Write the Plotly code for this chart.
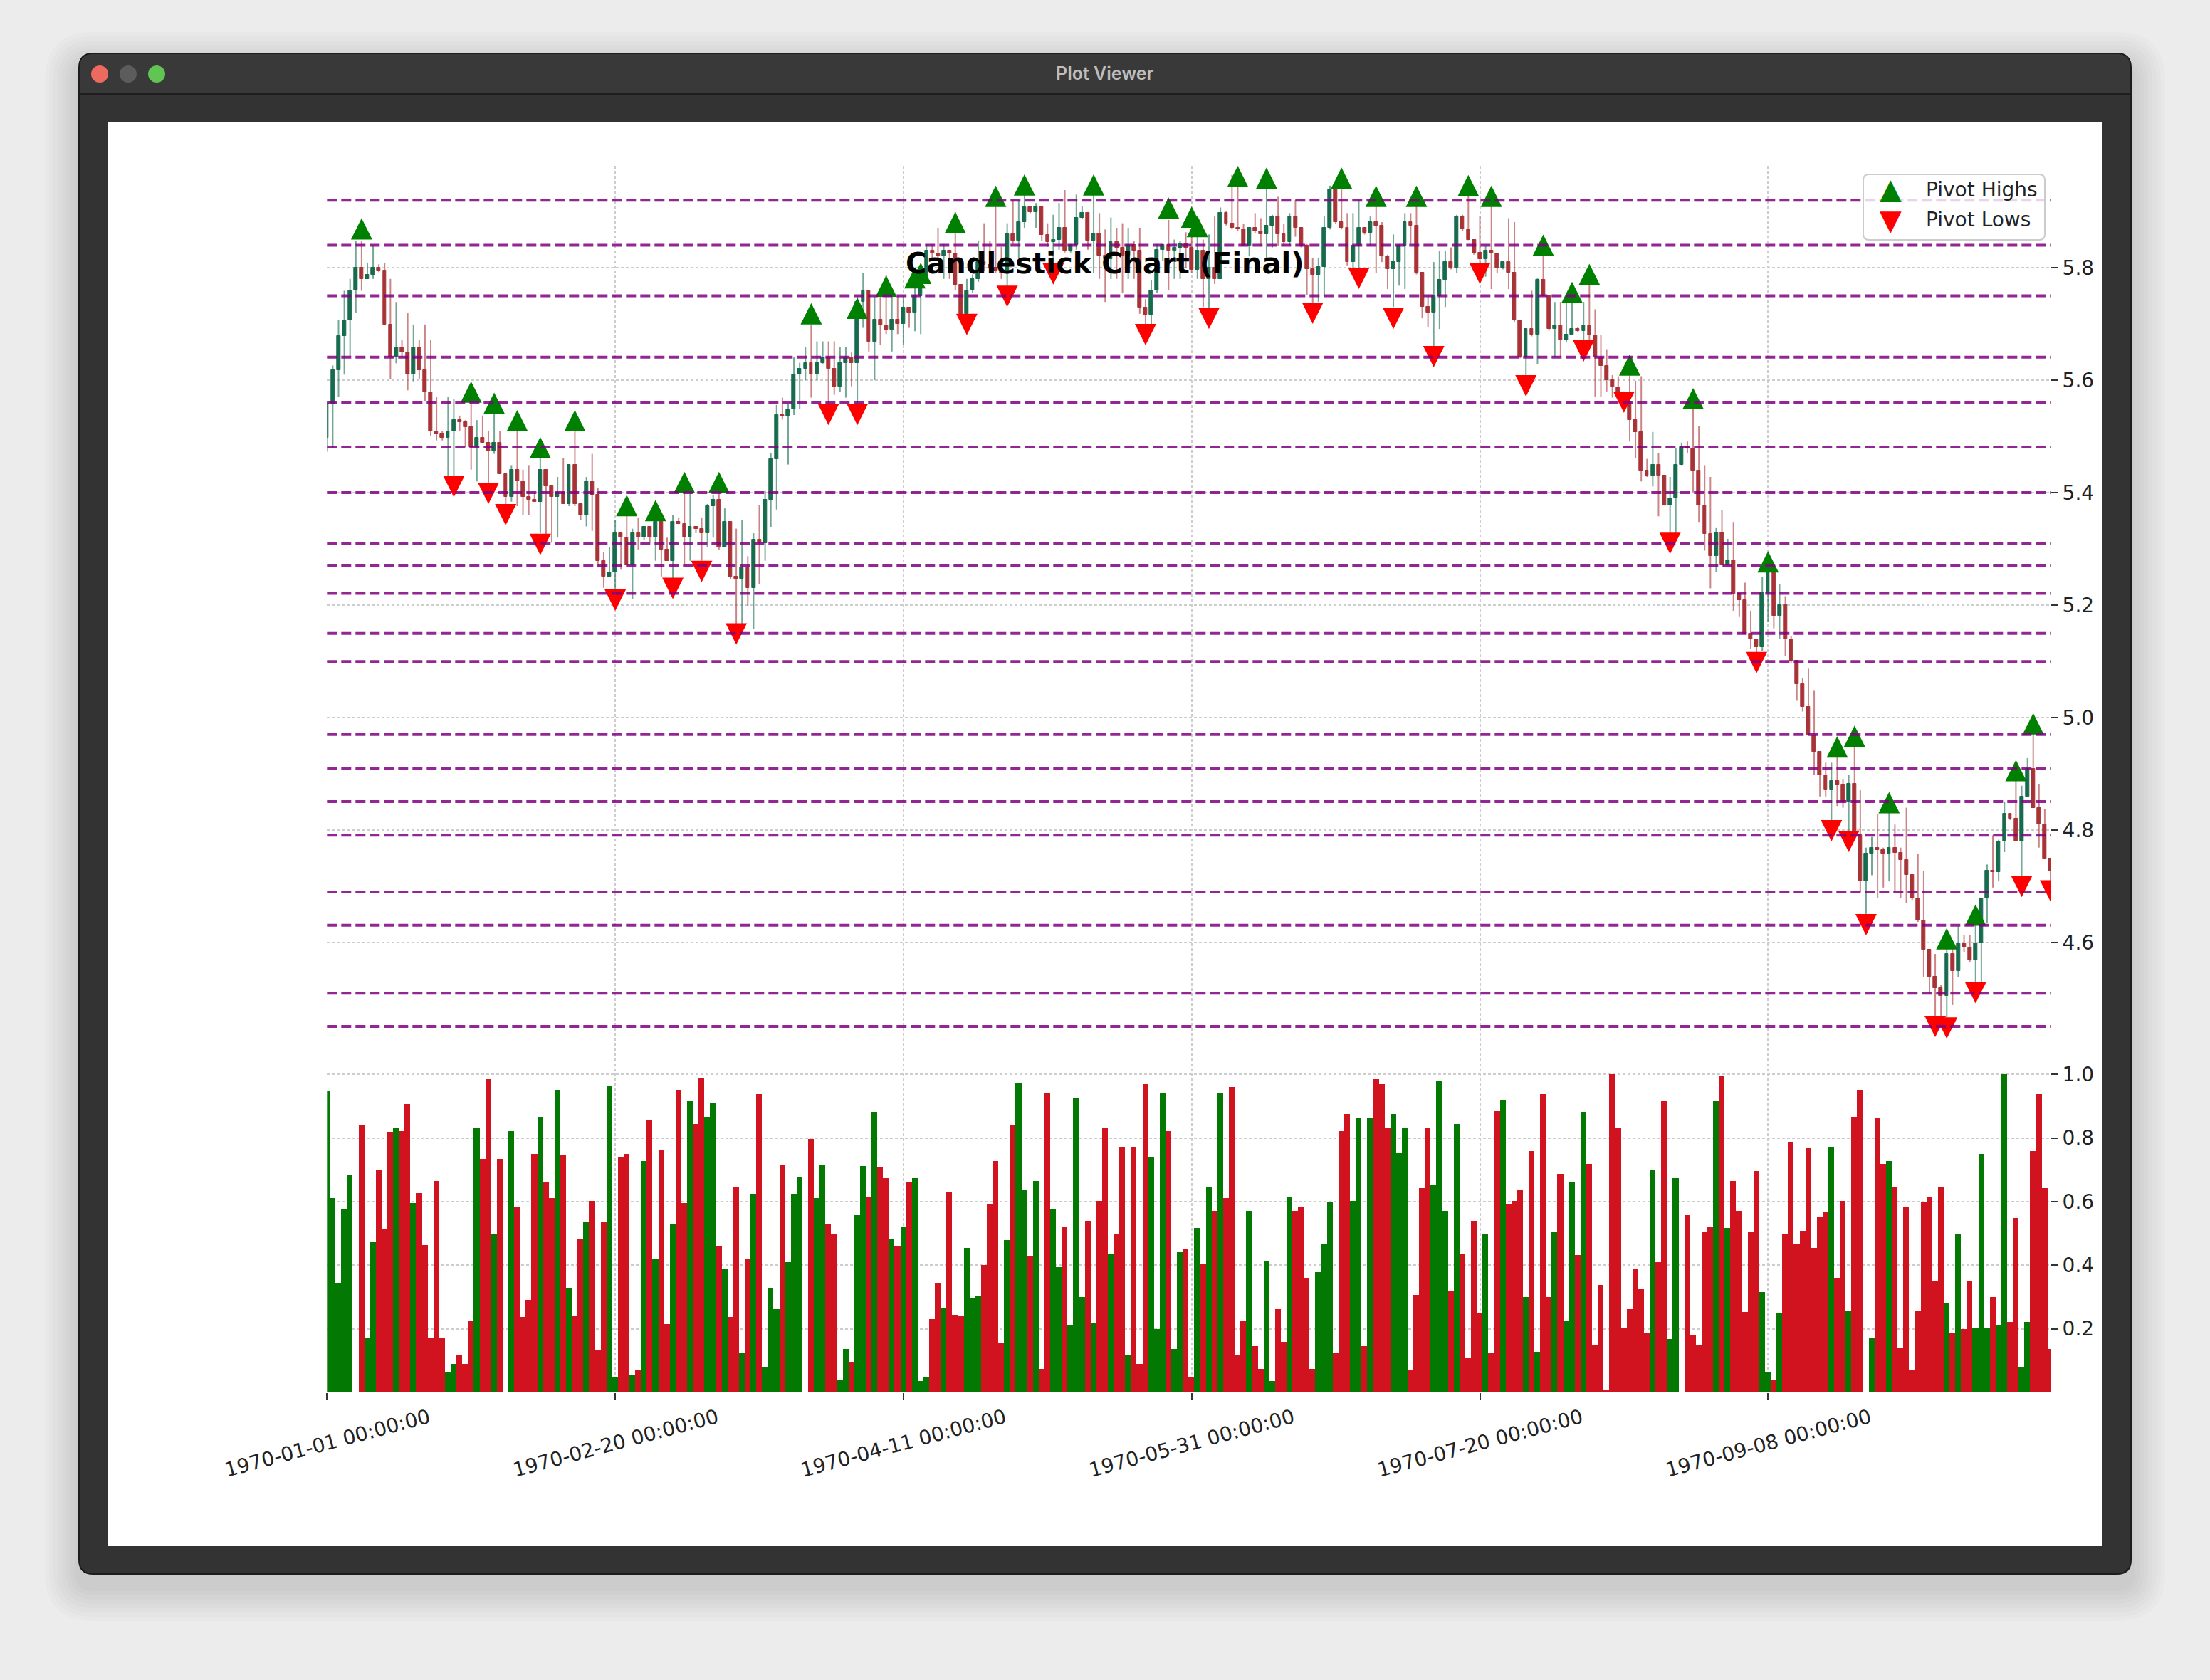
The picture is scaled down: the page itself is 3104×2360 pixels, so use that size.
import pandas as pd
import plotly.graph_objects as go

W, H = 3104, 2360

# ---------------- data ----------------
dates = pd.date_range("1970-01-01", periods=300, freq="D")

first_open = 5.497
close = [
    5.558, 5.618, 5.679, 5.707, 5.759, 5.800, 5.780, 5.788, 5.800, 5.795,
    5.699, 5.642, 5.658, 5.650, 5.610, 5.658, 5.618, 5.578, 5.509, 5.505,
    5.497, 5.509, 5.529, 5.525, 5.517, 5.481, 5.497, 5.489, 5.473, 5.489,
    5.433, 5.392, 5.441, 5.420, 5.392, 5.388, 5.384, 5.441, 5.412, 5.392,
    5.400, 5.380, 5.449, 5.380, 5.360, 5.420, 5.396, 5.279, 5.251, 5.259,
    5.328, 5.320, 5.271, 5.328, 5.320, 5.340, 5.320, 5.348, 5.299, 5.279,
    5.348, 5.344, 5.320, 5.340, 5.336, 5.328, 5.376, 5.388, 5.303, 5.348,
    5.251, 5.247, 5.267, 5.231, 5.316, 5.310, 5.388, 5.460, 5.538, 5.535,
    5.548, 5.610, 5.620, 5.631, 5.610, 5.631, 5.641, 5.620, 5.589, 5.631,
    5.641, 5.631, 5.739, 5.760, 5.669, 5.708, 5.698, 5.690, 5.708, 5.700,
    5.729, 5.720, 5.749, 5.779, 5.830, 5.825, 5.820, 5.830, 5.825, 5.770,
    5.718, 5.760, 5.780, 5.810, 5.805, 5.800, 5.795, 5.790, 5.860, 5.848,
    5.881, 5.907, 5.899, 5.909, 5.858, 5.845, 5.850, 5.871, 5.830, 5.840,
    5.889, 5.897, 5.848, 5.861, 5.822, 5.815, 5.845, 5.835, 5.822, 5.840,
    5.830, 5.729, 5.716, 5.760, 5.832, 5.840, 5.830, 5.835, 5.842, 5.835,
    5.796, 5.830, 5.780, 5.800, 5.780, 5.897, 5.878, 5.871, 5.868, 5.839,
    5.871, 5.865, 5.860, 5.875, 5.891, 5.859, 5.845, 5.891, 5.871, 5.839,
    5.797, 5.788, 5.801, 5.871, 5.939, 5.881, 5.871, 5.810, 5.839, 5.871,
    5.862, 5.881, 5.875, 5.820, 5.797, 5.810, 5.839, 5.881, 5.875, 5.791,
    5.730, 5.720, 5.749, 5.778, 5.810, 5.800, 5.891, 5.868, 5.849, 5.826,
    5.815, 5.830, 5.825, 5.800, 5.810, 5.791, 5.707, 5.642, 5.691, 5.681,
    5.778, 5.749, 5.691, 5.697, 5.671, 5.681, 5.691, 5.688, 5.697, 5.680,
    5.640, 5.625, 5.600, 5.588, 5.578, 5.561, 5.529, 5.508, 5.439, 5.430,
    5.449, 5.430, 5.377, 5.390, 5.449, 5.481, 5.479, 5.439, 5.377, 5.327,
    5.287, 5.329, 5.272, 5.280, 5.221, 5.209, 5.150, 5.140, 5.125, 5.222,
    5.260, 5.181, 5.200, 5.140, 5.101, 5.060, 5.019, 4.969, 4.939, 4.898,
    4.871, 4.887, 4.880, 4.851, 4.882, 4.791, 4.709, 4.758, 4.769, 4.765,
    4.758, 4.769, 4.760, 4.747, 4.720, 4.679, 4.640, 4.588, 4.539, 4.519,
    4.505, 4.580, 4.550, 4.599, 4.591, 4.569, 4.599, 4.679, 4.728, 4.725,
    4.780, 4.829, 4.821, 4.780, 4.860, 4.909, 4.840, 4.810, 4.750, 4.728,
]
high = [
    5.562, 5.626, 5.707, 5.759, 5.780, 5.848, 5.848, 5.808, 5.840, 5.806,
    5.808, 5.780, 5.739, 5.671, 5.719, 5.699, 5.671, 5.699, 5.671, 5.570,
    5.509, 5.570, 5.566, 5.537, 5.529, 5.582, 5.529, 5.537, 5.509, 5.541,
    5.509, 5.433, 5.449, 5.509, 5.441, 5.449, 5.400, 5.465, 5.441, 5.408,
    5.428, 5.461, 5.449, 5.509, 5.380, 5.428, 5.469, 5.408, 5.295, 5.303,
    5.352, 5.328, 5.380, 5.336, 5.356, 5.340, 5.340, 5.368, 5.360, 5.320,
    5.360, 5.356, 5.404, 5.400, 5.340, 5.356, 5.380, 5.396, 5.400, 5.372,
    5.348, 5.336, 5.352, 5.287, 5.328, 5.378, 5.403, 5.471, 5.556, 5.569,
    5.558, 5.641, 5.631, 5.659, 5.698, 5.669, 5.669, 5.669, 5.669, 5.659,
    5.659, 5.649, 5.749, 5.791, 5.749, 5.749, 5.749, 5.786, 5.749, 5.749,
    5.749, 5.729, 5.780, 5.791, 5.842, 5.842, 5.871, 5.842, 5.830, 5.899,
    5.770, 5.780, 5.788, 5.847, 5.879, 5.847, 5.920, 5.837, 5.879, 5.920,
    5.920, 5.930, 5.910, 5.915, 5.910, 5.879, 5.894, 5.915, 5.938, 5.842,
    5.930, 5.910, 5.899, 5.946, 5.897, 5.868, 5.889, 5.871, 5.879, 5.871,
    5.848, 5.871, 5.744, 5.778, 5.842, 5.842, 5.885, 5.850, 5.848, 5.863,
    5.870, 5.860, 5.850, 5.859, 5.891, 5.907, 5.901, 5.965, 5.950, 5.878,
    5.871, 5.897, 5.888, 5.946, 5.894, 5.926, 5.878, 5.897, 5.920, 5.871,
    5.842, 5.817, 5.817, 5.891, 5.946, 5.946, 5.939, 5.897, 5.897, 5.920,
    5.871, 5.891, 5.930, 5.881, 5.823, 5.859, 5.842, 5.897, 5.897, 5.930,
    5.791, 5.752, 5.810, 5.830, 5.830, 5.836, 5.894, 5.894, 5.946, 5.849,
    5.891, 5.839, 5.926, 5.810, 5.810, 5.888, 5.881, 5.707, 5.691, 5.759,
    5.781, 5.823, 5.749, 5.739, 5.739, 5.739, 5.742, 5.694, 5.739, 5.775,
    5.726, 5.681, 5.655, 5.609, 5.607, 5.580, 5.633, 5.599, 5.607, 5.460,
    5.508, 5.470, 5.430, 5.428, 5.479, 5.489, 5.491, 5.569, 5.519, 5.449,
    5.428, 5.337, 5.369, 5.318, 5.348, 5.221, 5.240, 5.189, 5.140, 5.250,
    5.270, 5.260, 5.238, 5.216, 5.145, 5.098, 5.071, 5.087, 5.049, 4.939,
    4.920, 4.920, 4.953, 4.890, 4.898, 4.950, 4.871, 4.769, 4.788, 4.829,
    4.769, 4.835, 4.810, 4.769, 4.840, 4.720, 4.758, 4.728, 4.588, 4.580,
    4.525, 4.596, 4.593, 4.629, 4.613, 4.613, 4.654, 4.679, 4.739, 4.791,
    4.783, 4.851, 4.829, 4.909, 4.879, 4.928, 4.991, 4.882, 4.838, 4.750,
]
low = [
    5.473, 5.480, 5.570, 5.610, 5.642, 5.719, 5.759, 5.780, 5.780, 5.792,
    5.699, 5.602, 5.630, 5.642, 5.582, 5.598, 5.602, 5.562, 5.501, 5.493,
    5.493, 5.430, 5.410, 5.509, 5.481, 5.441, 5.420, 5.489, 5.416, 5.469,
    5.433, 5.368, 5.384, 5.376, 5.360, 5.360, 5.384, 5.328, 5.311, 5.311,
    5.320, 5.380, 5.376, 5.376, 5.352, 5.340, 5.332, 5.267, 5.231, 5.251,
    5.219, 5.263, 5.271, 5.211, 5.299, 5.316, 5.311, 5.279, 5.251, 5.279,
    5.235, 5.344, 5.271, 5.279, 5.328, 5.279, 5.303, 5.320, 5.299, 5.303,
    5.247, 5.158, 5.158, 5.199, 5.158, 5.238, 5.279, 5.339, 5.370, 5.530,
    5.450, 5.538, 5.548, 5.600, 5.569, 5.600, 5.628, 5.558, 5.574, 5.579,
    5.569, 5.589, 5.558, 5.693, 5.651, 5.600, 5.662, 5.682, 5.651, 5.682,
    5.662, 5.693, 5.687, 5.682, 5.779, 5.812, 5.812, 5.780, 5.780, 5.760,
    5.708, 5.698, 5.755, 5.775, 5.795, 5.795, 5.791, 5.780, 5.765, 5.842,
    5.817, 5.871, 5.897, 5.871, 5.848, 5.837, 5.791, 5.832, 5.827, 5.827,
    5.832, 5.886, 5.832, 5.791, 5.780, 5.739, 5.780, 5.780, 5.755, 5.780,
    5.780, 5.718, 5.698, 5.698, 5.755, 5.812, 5.760, 5.780, 5.780, 5.800,
    5.790, 5.780, 5.730, 5.713, 5.771, 5.780, 5.875, 5.868, 5.865, 5.839,
    5.820, 5.862, 5.839, 5.817, 5.836, 5.839, 5.839, 5.839, 5.855, 5.836,
    5.752, 5.736, 5.739, 5.749, 5.868, 5.878, 5.868, 5.804, 5.797, 5.778,
    5.859, 5.839, 5.791, 5.810, 5.762, 5.730, 5.768, 5.762, 5.842, 5.788,
    5.710, 5.694, 5.639, 5.691, 5.730, 5.797, 5.791, 5.865, 5.849, 5.823,
    5.784, 5.784, 5.762, 5.791, 5.797, 5.762, 5.704, 5.639, 5.604, 5.678,
    5.629, 5.749, 5.688, 5.642, 5.642, 5.668, 5.681, 5.686, 5.655, 5.668,
    5.571, 5.571, 5.580, 5.569, 5.567, 5.555, 5.491, 5.462, 5.420, 5.428,
    5.411, 5.358, 5.377, 5.327, 5.318, 5.449, 5.470, 5.401, 5.348, 5.297,
    5.230, 5.259, 5.272, 5.270, 5.190, 5.179, 5.148, 5.123, 5.101, 5.118,
    5.170, 5.159, 5.140, 5.109, 5.098, 5.030, 5.011, 4.969, 4.898, 4.860,
    4.860, 4.816, 4.843, 4.840, 4.799, 4.791, 4.690, 4.651, 4.720, 4.679,
    4.698, 4.709, 4.690, 4.679, 4.670, 4.676, 4.637, 4.539, 4.508, 4.467,
    4.460, 4.464, 4.489, 4.539, 4.583, 4.566, 4.525, 4.525, 4.635, 4.698,
    4.709, 4.761, 4.818, 4.780, 4.698, 4.860, 4.840, 4.769, 4.750, 4.710,
]
volume = [
    0.948, 0.612, 0.345, 0.576, 0.684, 0.000, 0.841, 0.173, 0.473, 0.701,
    0.514, 0.819, 0.831, 0.822, 0.907, 0.595, 0.626, 0.464, 0.173, 0.666,
    0.173, 0.066, 0.089, 0.119, 0.089, 0.227, 0.831, 0.734, 0.984, 0.500,
    0.734, 0.000, 0.822, 0.581, 0.237, 0.290, 0.751, 0.867, 0.661, 0.612,
    0.952, 0.746, 0.330, 0.240, 0.483, 0.536, 0.603, 0.134, 0.536, 0.966,
    0.049, 0.742, 0.751, 0.057, 0.071, 0.728, 0.858, 0.419, 0.764, 0.214,
    0.528, 0.952, 0.595, 0.916, 0.845, 0.988, 0.867, 0.912, 0.460, 0.388,
    0.237, 0.648, 0.124, 0.419, 0.625, 0.939, 0.080, 0.330, 0.263, 0.716,
    0.410, 0.625, 0.679, 0.000, 0.796, 0.612, 0.716, 0.531, 0.500, 0.040,
    0.137, 0.097, 0.558, 0.711, 0.616, 0.881, 0.707, 0.675, 0.482, 0.460,
    0.522, 0.661, 0.675, 0.035, 0.049, 0.231, 0.343, 0.267, 0.630, 0.245,
    0.240, 0.455, 0.295, 0.303, 0.401, 0.594, 0.728, 0.156, 0.478, 0.841,
    0.975, 0.639, 0.428, 0.666, 0.075, 0.943, 0.576, 0.393, 0.522, 0.213,
    0.925, 0.299, 0.540, 0.218, 0.603, 0.831, 0.437, 0.500, 0.773, 0.119,
    0.773, 0.089, 0.970, 0.742, 0.200, 0.943, 0.822, 0.137, 0.442, 0.451,
    0.049, 0.518, 0.406, 0.648, 0.572, 0.943, 0.612, 0.961, 0.119, 0.227,
    0.572, 0.146, 0.075, 0.415, 0.035, 0.263, 0.160, 0.616, 0.572, 0.585,
    0.361, 0.075, 0.379, 0.469, 0.599, 0.124, 0.822, 0.876, 0.603, 0.863,
    0.146, 0.863, 0.984, 0.970, 0.831, 0.876, 0.755, 0.831, 0.071, 0.307,
    0.643, 0.831, 0.652, 0.979, 0.572, 0.321, 0.845, 0.437, 0.110, 0.540,
    0.249, 0.500, 0.124, 0.885, 0.921, 0.594, 0.603, 0.639, 0.299, 0.760,
    0.128, 0.939, 0.299, 0.504, 0.688, 0.227, 0.661, 0.433, 0.881, 0.719,
    0.151, 0.339, 0.007, 1.000, 0.831, 0.204, 0.263, 0.388, 0.325, 0.187,
    0.701, 0.410, 0.916, 0.169, 0.675, 0.000, 0.558, 0.178, 0.151, 0.504,
    0.522, 0.916, 0.993, 0.518, 0.666, 0.572, 0.254, 0.504, 0.697, 0.316,
    0.062, 0.040, 0.249, 0.496, 0.787, 0.469, 0.509, 0.769, 0.455, 0.554,
    0.567, 0.773, 0.361, 0.603, 0.258, 0.867, 0.952, 0.000, 0.173, 0.863,
    0.719, 0.728, 0.648, 0.142, 0.585, 0.071, 0.258, 0.599, 0.616, 0.352,
    0.648, 0.281, 0.187, 0.496, 0.200, 0.352, 0.204, 0.751, 0.204, 0.299,
    0.213, 1.000, 0.222, 0.549, 0.079, 0.222, 0.760, 0.939, 0.643, 0.137,
]

pivot_high_idx = [6, 25, 29, 33, 37, 43, 52, 57, 62, 68, 84, 92, 97, 102, 103,
                  109, 116, 121, 133, 146, 150, 151, 158, 163, 176, 182, 189,
                  198, 202, 211, 216, 219, 226, 237, 250, 262, 265, 271, 281,
                  286, 293, 296]
pivot_high_y = [5.888, 5.598, 5.578, 5.547, 5.499, 5.547, 5.396, 5.387, 5.437,
                5.437, 5.737, 5.747, 5.786, 5.801, 5.809, 5.899, 5.946, 5.966,
                5.966, 5.925, 5.909, 5.892, 5.981, 5.978, 5.978, 5.946, 5.946,
                5.965, 5.946, 5.859, 5.775, 5.807, 5.646, 5.586, 5.296, 4.967,
                4.986, 4.868, 4.626, 4.668, 4.925, 5.008]
pivot_low_idx = [22, 28, 31, 37, 50, 60, 65, 71, 87, 92, 111, 118, 126, 142,
                 153, 171, 179, 185, 192, 200, 208, 218, 225, 233, 248, 261,
                 264, 267, 279, 281, 286, 294, 299]
pivot_low_y = [5.392, 5.380, 5.342, 5.289, 5.190, 5.211, 5.241, 5.130, 5.520,
               5.520, 5.680, 5.730, 5.770, 5.662, 5.691, 5.700, 5.762, 5.691,
               5.623, 5.771, 5.571, 5.633, 5.542, 5.291, 5.079, 4.780, 4.761,
               4.613, 4.432, 4.429, 4.492, 4.681, 4.673]

levels = [5.92, 5.84, 5.75, 5.641, 5.56, 5.481, 5.40, 5.31, 5.271, 5.221,
          5.15, 5.10, 4.97, 4.91, 4.851, 4.791, 4.69, 4.631, 4.51, 4.451]

price_ticks = [4.6, 4.8, 5.0, 5.2, 5.4, 5.6, 5.8]
volume_ticks = [0.2, 0.4, 0.6, 0.8, 1.0]
xtick_idx = [0, 50, 100, 150, 200, 250]
xtick_labels = ["1970-01-01 00:00:00", "1970-02-20 00:00:00",
                "1970-04-11 00:00:00", "1970-05-31 00:00:00",
                "1970-07-20 00:00:00", "1970-09-08 00:00:00"]

# ---------------- helpers ----------------
def X(px):
    return px / W


def Y(py):
    return 1 - py / H


def rrect(x0, y0, x1, y1, r, top_only=False):
    rb = 0 if top_only else r
    return (f"M {X(x0 + r)},{Y(y0)} L {X(x1 - r)},{Y(y0)} "
            f"Q {X(x1)},{Y(y0)} {X(x1)},{Y(y0 + r)} "
            f"L {X(x1)},{Y(y1 - rb)} Q {X(x1)},{Y(y1)} {X(x1 - rb)},{Y(y1)} "
            f"L {X(x0 + rb)},{Y(y1)} Q {X(x0)},{Y(y1)} {X(x0)},{Y(y1 - rb)} "
            f"L {X(x0)},{Y(y0 + r)} Q {X(x0)},{Y(y0)} {X(x0 + r)},{Y(y0)} Z")


opens = [first_open] + close[:-1]
up = [c >= o for o, c in zip(opens, close)]
DAY = 86400000

BODY_UP, BODY_DN = "#176c4e", "#a83337"
WICK_UP, WICK_DN = "rgba(23,108,78,0.6)", "rgba(168,51,55,0.6)"
VOL_UP, VOL_DN = "#037803", "#d0131f"

# plot geometry (pixels)
PL, PR = 459.3, 2880.0
P_TOP, P_BOT = 233.0, 1487.0
V_BOT = 1956.0

fig = go.Figure()

# wicks
for flag, col in ((True, WICK_UP), (False, WICK_DN)):
    xs, ys = [], []
    for i in range(len(close)):
        if up[i] == flag:
            xs += [dates[i], dates[i], None]
            ys += [low[i], high[i], None]
    fig.add_trace(go.Scatter(x=xs, y=ys, mode="lines",
                             line=dict(color=col, width=2),
                             hoverinfo="skip", xaxis="x", yaxis="y"))

# bodies
body_cols = [BODY_UP if u else BODY_DN for u in up]
fig.add_trace(go.Bar(
    x=dates, base=[min(o, c) for o, c in zip(opens, close)],
    y=[abs(c - o) for o, c in zip(opens, close)],
    width=0.6 * DAY, marker=dict(color=body_cols,
                                 line=dict(color=body_cols, width=1)),
    xaxis="x", yaxis="y", hoverinfo="skip"))

# pivots
fig.add_trace(go.Scatter(
    x=[dates[i] for i in pivot_high_idx], y=pivot_high_y, mode="markers",
    marker=dict(symbol="arrow-up", size=30, color="#008000"),
    xaxis="x", yaxis="y", hoverinfo="skip"))
fig.add_trace(go.Scatter(
    x=[dates[i] for i in pivot_low_idx], y=pivot_low_y, mode="markers",
    marker=dict(symbol="arrow-down", size=30, color="#ff0000"),
    xaxis="x", yaxis="y", hoverinfo="skip"))

# volume
fig.add_trace(go.Bar(
    x=dates, y=volume, width=DAY,
    marker=dict(color=[VOL_UP if u else VOL_DN for u in up], line=dict(width=0)),
    xaxis="x2", yaxis="y2", hoverinfo="skip"))

shapes = []
# window shadow
for k in range(1, 9):
    e = k * 6
    shapes.append(dict(type="path", xref="paper", yref="paper", layer="below",
                       path=rrect(111 - e, 75 - e + 18, 2993 + e, 2211 + e + 18, 20 + e),
                       fillcolor="rgba(0,0,0,0.016)", line=dict(width=0)))
# window body
shapes.append(dict(type="path", xref="paper", yref="paper", layer="below",
                   path=rrect(111, 75, 2993, 2211, 20), fillcolor="#333333",
                   line=dict(color="#1c1c1c", width=2)))
shapes.append(dict(type="path", xref="paper", yref="paper", layer="below",
                   path=rrect(112, 76, 2992, 132, 19, top_only=True),
                   fillcolor="#393939", line=dict(width=0)))
shapes.append(dict(type="line", xref="paper", yref="paper", layer="below",
                   x0=X(112), x1=X(2992), y0=Y(132), y1=Y(132),
                   line=dict(color="#1e1e1e", width=2)))
# white content
shapes.append(dict(type="rect", xref="paper", yref="paper", layer="below",
                   x0=X(152), x1=X(2952), y0=Y(2172), y1=Y(172),
                   fillcolor="white", line=dict(width=0)))
# traffic lights
for cx, col in ((140, "#ed6a5e"), (180, "#5c5c5c"), (220, "#61c554")):
    shapes.append(dict(type="circle", xref="paper", yref="paper", layer="below",
                       x0=X(cx - 12), x1=X(cx + 12), y0=Y(104 + 12), y1=Y(104 - 12),
                       fillcolor=col, line=dict(width=0)))
# level lines
for lv in levels:
    shapes.append(dict(type="line", xref="x domain", yref="y", layer="above",
                       x0=0, x1=1, y0=lv, y1=lv,
                       line=dict(color="rgba(128,0,128,0.85)", width=4,
                                 dash="14px,6px")))
# legend box
shapes.append(dict(type="path", xref="paper", yref="paper", layer="above",
                   path=rrect(2617, 245, 2872, 337, 8),
                   fillcolor="rgba(255,255,255,0.8)",
                   line=dict(color="#cccccc", width=2)))


def note(text, x, y, size, color, family="DejaVu Sans", xanchor="center",
         weight=None, xref="paper", angle=0):
    f = dict(family=family, size=size, color=color)
    if weight:
        f["weight"] = weight
    return dict(text=text, x=x, y=y, xref=xref, yref="paper", showarrow=False,
                xanchor=xanchor, yanchor="middle", textangle=angle, font=f)


annotations = [
    note("Plot Viewer", X(1552), Y(103), 25, "#bdbdbd", family="Inter", weight=600),
    note("<b>Candlestick Chart (Final)</b>", X(1552), Y(370), 40, "black"),
    note("▲", X(2655), Y(265), 40, "#008000"),
    note("▼", X(2655), Y(309), 40, "#ff0000"),
    note("Pivot Highs", X(2703), Y(267), 28, "#222222", xanchor="left"),
    note("Pivot Lows", X(2703), Y(309), 28, "#222222", xanchor="left"),
]
for i, lab in zip(xtick_idx, xtick_labels):
    annotations.append(note(lab, dates[i], Y(2027), 28, "#222222",
                            xref="x2", angle=-15))

grid = dict(showgrid=True, gridcolor="#cdcdcd", gridwidth=1.5,
            griddash="4px,3px", zeroline=False, showline=False)
xr = [dates[0], dates[-1]]
xt = [dates[i] for i in xtick_idx]

fig.update_layout(
    width=W, height=H, autosize=False,
    margin=dict(l=0, r=0, t=0, b=0),
    paper_bgcolor="#ececec", plot_bgcolor="rgba(0,0,0,0)",
    showlegend=False, barmode="overlay", bargap=0,
    font=dict(family="DejaVu Sans", size=28, color="#222222"),
    shapes=shapes, annotations=annotations,
    xaxis=dict(domain=[X(PL), X(PR)], type="date", range=xr, anchor="y",
               tickvals=xt, showticklabels=False, ticks="", **grid),
    yaxis=dict(domain=[Y(P_BOT), Y(P_TOP)], range=[4.394, 5.981], anchor="x",
               side="right", tickvals=price_ticks,
               ticktext=[f"{v:.1f}" for v in price_ticks],
               ticks="outside", ticklen=10, tickwidth=2, tickcolor="#333333",
               tickfont=dict(size=28, color="#222222"), **grid),
    xaxis2=dict(domain=[X(PL), X(PR)], type="date", range=xr, anchor="y2",
                tickvals=xt, showticklabels=False, ticks="outside", ticklen=10,
                tickwidth=2, tickcolor="#333333", **grid),
    yaxis2=dict(domain=[Y(V_BOT), Y(P_BOT)], range=[0, 1.05], anchor="x2",
                side="right", tickvals=volume_ticks,
                ticktext=[f"{v:.1f}" for v in volume_ticks],
                ticks="outside", ticklen=10, tickwidth=2, tickcolor="#333333",
                tickfont=dict(size=28, color="#222222"), **grid),
)

fig.write_html("out.html")
